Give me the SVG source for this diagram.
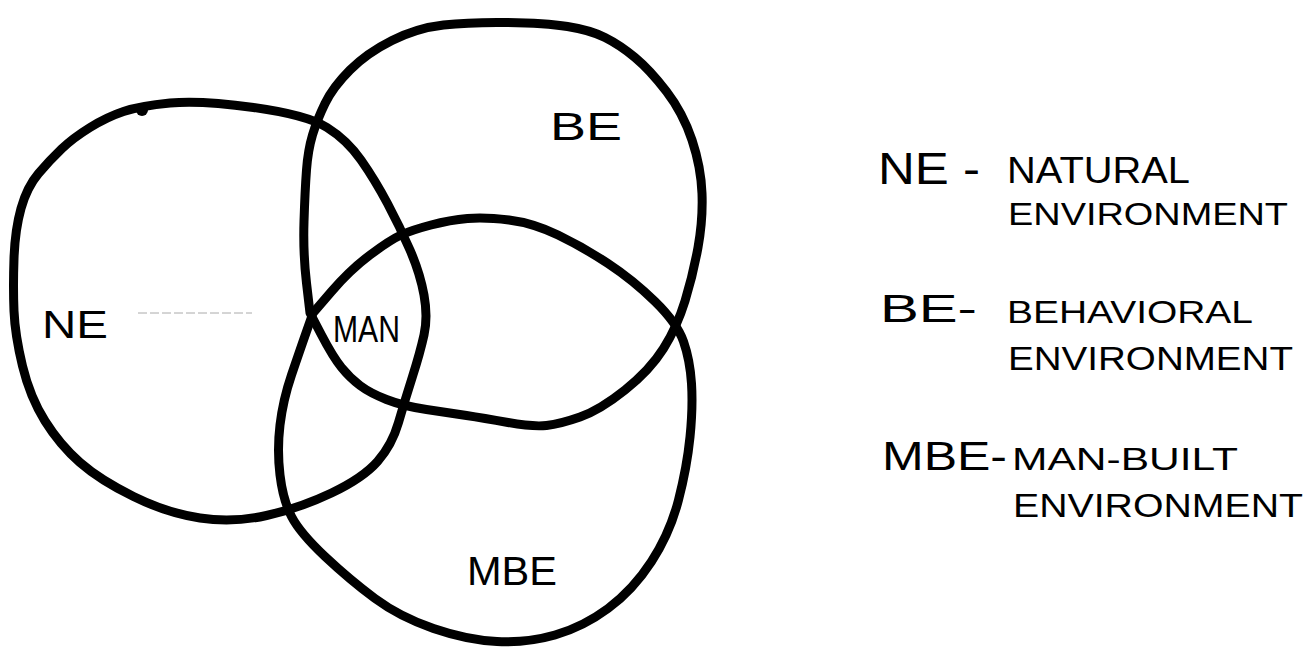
<svg xmlns="http://www.w3.org/2000/svg" width="1315" height="647" viewBox="0 0 1315 647">
<style>
.ring{fill:none;stroke:#000;stroke-width:9;stroke-linejoin:round;stroke-linecap:round}
.lbl{font-family:"Liberation Sans",Arial,sans-serif;fill:#000}
</style>
<rect width="1315" height="647" fill="#fff"/>
<g id="ne">
<path class="ring" d="M253.5,107.5 Q307,115 327,127.5 Q347,140 361,160 Q375,180 387.5,203.5 Q400,227 410,250 Q420,273 424,295 Q428,317 424,335 Q420,353 412.5,376.5 Q405,400 398.5,422.5 Q392,445 377.5,461.5 Q363,478 331.5,493 Q300,508 266.5,515.5 Q233,523 200,518 Q167,513 133.5,496.5 Q100,480 80,462.5 Q60,445 45,421 Q30,397 22.5,366 Q15,335 14,311 Q13,287 14,258.5 Q15,230 21,208.5 Q27,187 38.5,173.5 Q50,160 61.5,149 Q73,138 90,127.5 Q107,117 123.5,111.5 Q140,106 170,103 Q200,100 253.5,107.5 Z"/>
<ellipse cx="142" cy="110" rx="6" ry="6" fill="#000"/>
<text class="lbl" x="42" y="338" font-size="38" textLength="66" lengthAdjust="spacingAndGlyphs">NE</text>
</g>
<g id="be">
<path class="ring" d="M443.5,25 Q470,22 507.5,22.5 Q545,23 567.5,26.5 Q590,30 605,37.5 Q620,45 635,57.5 Q650,70 666.5,91.5 Q683,113 692,140 Q701,167 702,193.5 Q703,220 698,247.5 Q693,275 685,301 Q677,327 663.5,348.5 Q650,370 625,390 Q600,410 580,417 Q560,424 546.5,425.5 Q533,427 508,422.5 Q483,418 466.5,415.5 Q450,413 426.5,409.5 Q403,406 386.5,399.5 Q370,393 360,385.5 Q350,378 341.5,367.5 Q333,357 321.5,335 L310,313 L306.5,283 Q303,253 304,221.5 Q305,190 306.5,170 Q308,150 312.5,135 Q317,120 325,103.5 Q333,87 350,70 Q367,53 392,40.5 Q417,28 443.5,25 Z"/>
<text class="lbl" x="550" y="140" font-size="38" textLength="72" lengthAdjust="spacingAndGlyphs">BE</text>
</g>
<g id="mbe">
<path class="ring" d="M467.5,218.5 Q485,217 509,220 Q533,223 558,235 Q583,247 608,263.5 Q633,280 655,301.5 Q677,323 683.5,341.5 Q690,360 691.5,383.5 Q693,407 690,437 Q687,467 678.5,500 Q670,533 651.5,561.5 Q633,590 608,608.5 Q583,627 555,635 Q527,643 497,641.5 Q467,640 433.5,628.5 Q400,617 375,598.5 Q350,580 325,556.5 Q300,533 291.5,516.5 Q283,500 280,475 Q277,450 280,425 Q283,400 291.5,375 Q300,350 306.5,331.5 L313,313 L331.5,291.5 Q350,270 370,255 Q390,240 401,235 Q412,230 431,225 Q450,220 467.5,218.5 Z"/>
<text class="lbl" x="467" y="585" font-size="40" textLength="90" lengthAdjust="spacingAndGlyphs">MBE</text>
</g>
<g id="man">
<text class="lbl" x="333" y="342" font-size="37" textLength="67" lengthAdjust="spacingAndGlyphs">MAN</text>
</g>
<g id="connectors">
<line x1="138" y1="313" x2="252" y2="313" stroke="#aaa" stroke-width="1" stroke-dasharray="9 3"/>
</g>
<g id="legend">
<text class="lbl" x="878" y="184" font-size="44" textLength="102" lengthAdjust="spacingAndGlyphs">NE -</text>
<text class="lbl" x="1007" y="183" font-size="36" textLength="183" lengthAdjust="spacingAndGlyphs">NATURAL</text>
<text class="lbl" x="1008" y="225" font-size="32" textLength="280" lengthAdjust="spacingAndGlyphs">ENVIRONMENT</text>
<text class="lbl" x="880" y="322" font-size="38" textLength="97" lengthAdjust="spacingAndGlyphs">BE-</text>
<text class="lbl" x="1007" y="323" font-size="32" textLength="246" lengthAdjust="spacingAndGlyphs">BEHAVIORAL</text>
<text class="lbl" x="1008" y="370" font-size="34" textLength="285" lengthAdjust="spacingAndGlyphs">ENVIRONMENT</text>
<text class="lbl" x="882" y="470" font-size="40" textLength="125" lengthAdjust="spacingAndGlyphs">MBE-</text>
<text class="lbl" x="1012" y="470" font-size="32" textLength="226" lengthAdjust="spacingAndGlyphs">MAN-BUILT</text>
<text class="lbl" x="1013" y="517" font-size="34" textLength="290" lengthAdjust="spacingAndGlyphs">ENVIRONMENT</text>
</g>
</svg>
